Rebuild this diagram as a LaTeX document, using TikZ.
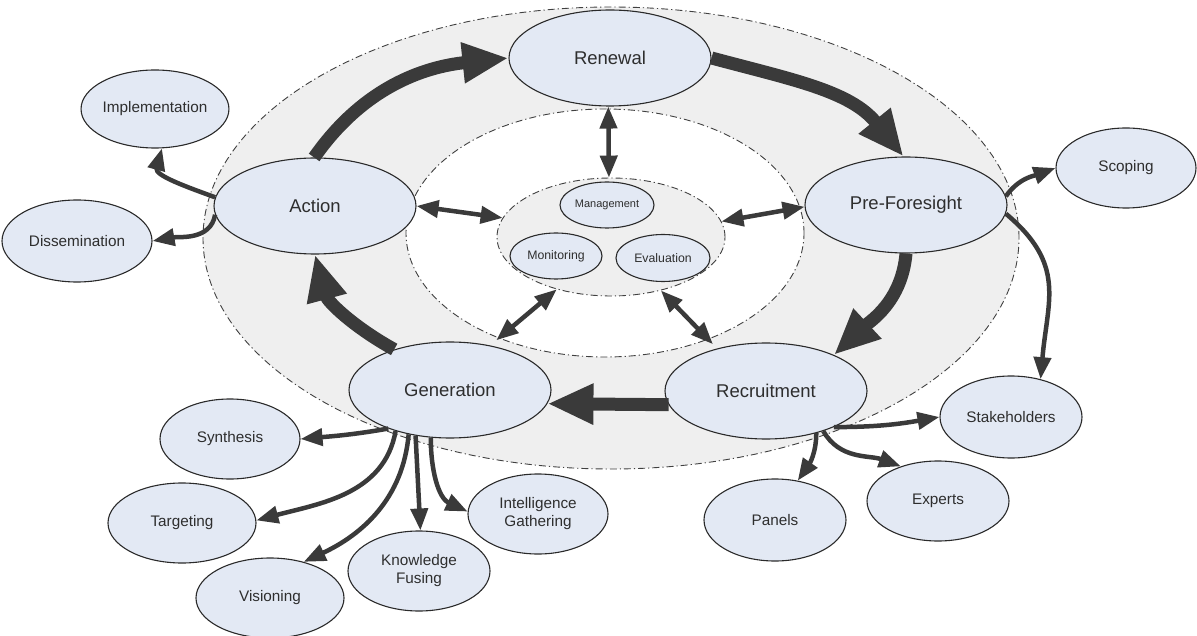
\documentclass[tikz,border=0pt]{standalone}
\usepackage{fontspec}
\setmainfont{Liberation Sans}
\usetikzlibrary{arrows.meta,shapes.geometric}
\definecolor{nodefill}{HTML}{E3E9F4}
\definecolor{ringfill}{HTML}{EFEFEF}
\definecolor{arrowc}{HTML}{3A3A3A}
\definecolor{textc}{HTML}{2E2E2E}
\definecolor{edgec}{HTML}{2A2A2A}
\begin{document}
\begin{tikzpicture}[x=1pt,y=1pt,
  base/.style={ellipse, draw=edgec, line width=1.1pt, fill=nodefill, inner sep=0pt, text=textc},
  major/.style={base, minimum width=202pt, minimum height=96pt, font=\fontsize{18.5}{22}\selectfont},
  minor/.style={base, minimum width=142pt, minimum height=80pt, font=\fontsize{15.3}{18}\selectfont, align=center},
  tiny/.style={base, minimum width=93pt, minimum height=46pt, font=\fontsize{12.3}{14}\selectfont},
  ring/.style={draw=black!75, line width=0.9pt, dash pattern=on 7pt off 3pt on 1.2pt off 3pt},
  big/.style={draw=arrowc, line width=13pt, -{Triangle[length=46pt,width=38pt]}},
  thin/.style={draw=arrowc, line width=4.5pt, -{Triangle[length=22pt,width=17pt]}},
  dbl/.style={draw=arrowc, line width=4.5pt, {Triangle[length=22pt,width=17pt]}-{Triangle[length=22pt,width=17pt]}}
]
\useasboundingbox (0,0) rectangle (1197,-636);
% rings
\draw[ring, fill=ringfill] (611,-238) ellipse [x radius=408pt, y radius=231pt];
\draw[ring, fill=white] (605,-233) ellipse [x radius=199pt, y radius=124pt];
\node[ring, ellipse, fill=ringfill, minimum width=228pt, minimum height=118pt, inner sep=0pt] (hub) at (611,-237) {};
% centre nodes
\node[tiny, minimum width=94pt, font=\fontsize{11}{13}\selectfont] (man) at (607,-205) {Management};
\node[tiny, minimum width=92pt] (mon) at (556,-256) {Monitoring};
\node[tiny, minimum width=94pt, minimum height=47pt] (eva) at (663,-258) {Evaluation};
% main nodes
\node[major] (ren) at (610,-58) {Renewal};
\node[major] (act) at (315,-206) {Action};
\node[major] (pf) at (906,-205) {Pre-Foresight};
\node[major] (gen) at (450,-390) {Generation};
\node[major] (rec) at (766,-391) {Recruitment};
% outer nodes
\node[minor, minimum height=78pt] (impl) at (155,-109) {Implementation};
\node[minor, minimum width=150pt, minimum height=82pt] (diss) at (77,-241) {Dissemination};
\node[minor, minimum width=140pt] (scop) at (1126,-168) {Scoping};
\node[minor, minimum height=82pt] (stake) at (1011,-417) {Stakeholders};
\node[minor] (exp) at (938,-501) {Experts};
\node[minor, minimum height=82pt] (pan) at (775,-520) {Panels};
\node[minor, minimum width=140pt] (syn) at (230,-439) {Synthesis};
\node[minor, minimum width=148pt] (tar) at (182,-523) {Targeting};
\node[minor, minimum width=148pt] (vis) at (270,-598) {Visioning};
\node[minor] (know) at (419,-571) {Knowledge\\Fusing};
\node[minor, minimum width=140pt] (intel) at (538,-514) {Intelligence\\Gathering};
% main cycle
\draw[big] (act.91) to[out=55,in=186] (ren.180);
\draw[big] (ren.0) to[out=-15,in=129] (pf.93);
\draw[big] (pf.-90) to[out=-95,in=43] (rec.28);
\draw[big] (rec.188) -- (gen.-8);
\draw[big] (gen.144) to[out=151,in=-75] (act.-90);
% hub links
\draw[dbl] (ren.268) -- (hub.92);
\draw[dbl] (act.0) -- (hub.170);
\draw[dbl] (hub.8.6) -- (pf.181);
\draw[dbl, shorten >=8pt] (hub.224.5) -- (gen.48);
\draw[dbl, shorten >=6pt] (hub.313) -- (rec.139);
% outer links
\draw[thin] (act.175) to[out=160,in=255] (impl.280);
\draw[thin] (act.185) to[out=-100,in=10] (diss.0);
\draw[thin] (pf.5) to[out=55,in=200] (scop.180);
\draw[thin] (pf.-5) to[out=-40,in=85,looseness=1.2] (stake.52);
\draw[thin] (rec.-28) to[out=0,in=190] (stake.180);
\draw[thin] (rec.-35) to[out=-60,in=160] (exp.137);
\draw[thin] (rec.-40) to[out=-90,in=55] (pan.60);
\draw[thin] (gen.212) to[out=190,in=5] (syn.0);
\draw[thin] (gen.217) to[out=-100,in=15] (tar.2);
\draw[thin] (gen.227) to[out=-95,in=25] (vis.47);
\draw[thin] (gen.233) -- (know.88);
\draw[thin] (gen.248) to[out=-90,in=155] (intel.178);
\end{tikzpicture}
\end{document}
